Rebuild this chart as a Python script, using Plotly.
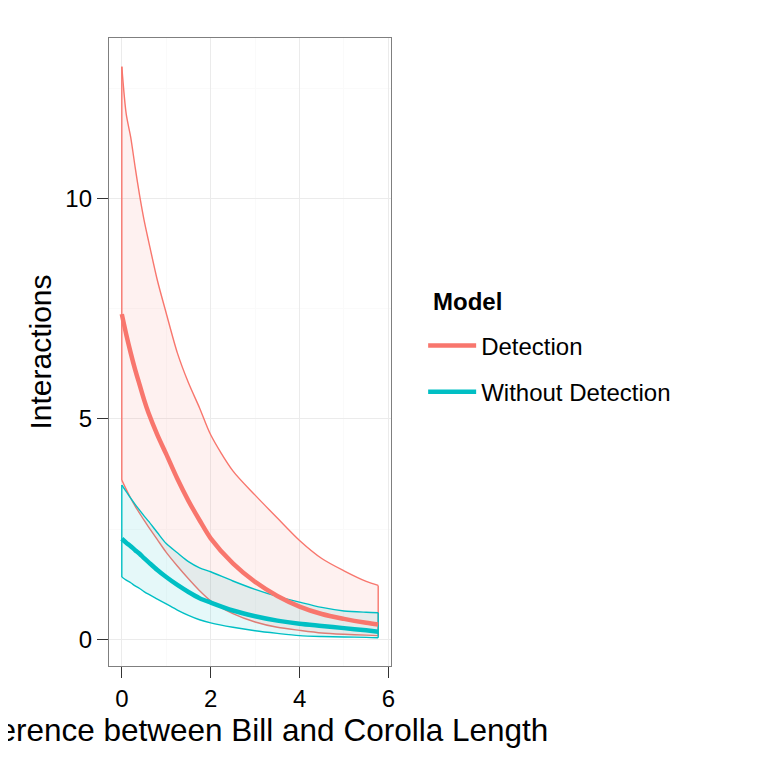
import plotly.graph_objects as go

# difference between bill and corolla length
x_pts = [0, 0.1, 0.2, 0.3, 0.4, 0.5, 0.6, 0.8, 1.0, 1.25, 1.5, 1.75, 2.0, 2.5, 3.0, 3.5, 4.0, 4.5, 5.0, 5.5, 5.77]

# Detection model
det_mean = [7.38, 6.92, 6.50, 6.12, 5.78, 5.44, 5.14, 4.64, 4.20, 3.64, 3.14, 2.70, 2.29, 1.72, 1.30, 0.98, 0.74, 0.57, 0.46, 0.37, 0.33]
det_upper = [13.0, 11.92, 11.40, 10.72, 10.08, 9.52, 9.05, 8.15, 7.40, 6.50, 5.82, 5.25, 4.64, 3.82, 3.27, 2.75, 2.24, 1.83, 1.55, 1.31, 1.22]
det_lower = [3.61, 3.40, 3.20, 3.02, 2.86, 2.70, 2.55, 2.26, 1.97, 1.66, 1.37, 1.10, 0.87, 0.58, 0.39, 0.27, 0.20, 0.14, 0.11, 0.09, 0.08]

# Without Detection model
wo_mean = [2.28, 2.19, 2.11, 2.02, 1.94, 1.84, 1.75, 1.57, 1.41, 1.23, 1.07, 0.93, 0.83, 0.65, 0.52, 0.42, 0.35, 0.30, 0.25, 0.20, 0.17]
wo_upper = [3.50, 3.35, 3.20, 3.06, 2.93, 2.80, 2.68, 2.42, 2.17, 1.96, 1.76, 1.62, 1.53, 1.32, 1.13, 0.97, 0.84, 0.72, 0.64, 0.61, 0.60]
wo_lower = [1.41, 1.34, 1.28, 1.21, 1.15, 1.08, 1.02, 0.91, 0.80, 0.66, 0.54, 0.44, 0.37, 0.27, 0.19, 0.13, 0.08, 0.06, 0.05, 0.04, 0.03]

models = ["Detection", "Without Detection"]
red = "#F8766D"
teal = "#00BFC4"
font = "Liberation Sans, Arial"

fig = go.Figure()

# ribbons first, outline = upper + lower + the two vertical ends
for name, col, fill, up, lo in [
    (models[0], red, "rgba(248,118,109,0.1)", det_upper, det_lower),
    (models[1], teal, "rgba(0,191,196,0.1)", wo_upper, wo_lower),
]:
    fig.add_trace(go.Scatter(
        x=x_pts, y=up, mode="lines",
        line=dict(color=col, width=1.4, shape="spline", smoothing=0.8),
        legendgroup=name, showlegend=False, hoverinfo="skip",
    ))
    fig.add_trace(go.Scatter(
        x=x_pts, y=lo, mode="lines", fill="tonexty", fillcolor=fill,
        line=dict(color=col, width=1.4, shape="spline", smoothing=0.8),
        legendgroup=name, showlegend=False, hoverinfo="skip",
    ))
    fig.add_trace(go.Scatter(
        x=[x_pts[0], x_pts[0], None, x_pts[-1], x_pts[-1]],
        y=[lo[0], up[0], None, lo[-1], up[-1]],
        mode="lines", line=dict(color=col, width=1.4),
        legendgroup=name, showlegend=False, hoverinfo="skip",
    ))

for name, col, mean in [(models[0], red, det_mean), (models[1], teal, wo_mean)]:
    fig.add_trace(go.Scatter(
        x=x_pts,
        y=mean,
        mode="lines",
        line=dict(color=col, width=4.5, shape="spline", smoothing=0.8),
        name=name,
        legendgroup=name,
    ))

axis_common = dict(
    showline=True,
    mirror=True,
    linecolor="#7F7F7F",
    linewidth=1.4,
    zeroline=False,
    showgrid=True,
    gridcolor="#EBEBEB",
    gridwidth=1,
    ticks="outside",
    ticklen=11,
    tickwidth=1.4,
    tickcolor="#333333",
    tickfont=dict(family=font, size=24, color="black"),
)

fig.update_xaxes(
    **axis_common,
    range=[-0.288, 6.058],
    tickvals=[0, 2, 4, 6],
    minor=dict(showgrid=True, gridcolor="#FAFAFA", dtick=1, tick0=0),
    title=dict(text="Difference between Bill and Corolla Length",
               font=dict(family=font, size=31.5, color="black"),
               standoff=5),
)
fig.update_yaxes(
    **axis_common,
    range=[-0.61, 13.65],
    tickvals=[0, 5, 10],
    minor=dict(showgrid=True, gridcolor="#FAFAFA", dtick=2.5, tick0=0),
    title=dict(text="Interactions",
               font=dict(family=font, size=30, color="black"),
               standoff=4),
)

# legend title as a separate label so the gap above the keys matches
fig.add_annotation(
    text="<b>Model</b>",
    xref="paper", yref="paper",
    x=1.143, y=0.581,
    xanchor="left", yanchor="middle",
    showarrow=False,
    font=dict(family=font, size=24, color="black"),
)

fig.update_layout(
    width=768,
    height=768,
    paper_bgcolor="white",
    plot_bgcolor="white",
    margin=dict(l=101, r=385, t=30, b=110, autoexpand=False),
    legend=dict(
        font=dict(family=font, size=24, color="black"),
        itemwidth=48,
        tracegroupgap=12,
        x=1.114,
        xanchor="left",
        y=0.473,
        yanchor="middle",
        bgcolor="rgba(0,0,0,0)",
    ),
)

fig.write_html("out.html")
